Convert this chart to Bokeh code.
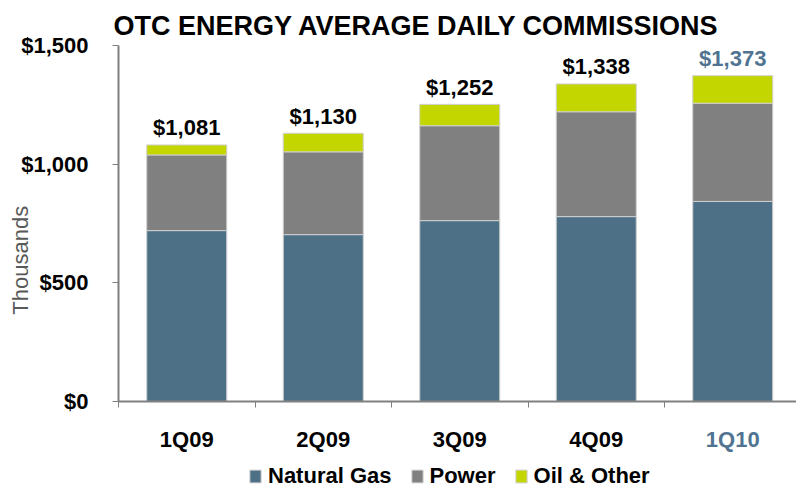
from bokeh.plotting import figure
from bokeh.models import (FixedTicker, NumeralTickFormatter, Label, Legend,
                          LegendItem, ColumnDataSource, Range1d)
from bokeh.core.properties import value
from bokeh.embed import file_html
from bokeh.resources import INLINE

# ---- data ----
quarters = ["1Q09", "2Q09", "3Q09", "4Q09", "1Q10"]
natural_gas = [720, 703, 762, 779, 843]
power = [319, 349, 400, 442, 414]
oil_other = [42, 78, 90, 117, 116]
totals = [1081, 1130, 1252, 1338, 1373]
y_ticks = [0, 500, 1000, 1500]

NG_C = "#4d7087"
PW_C = "#808080"
OIL_C = "#c3d600"
BLUE_T = "#4f7390"
FONT = value("Liberation Sans")

W, H = 796, 489
# frame covers the whole canvas; axes are pinned at data positions
PX_X = 136.5            # px per category
PX_Y = 355.5 / 1500.0   # px per unit
AX_LEFT, AX_BOTTOM, AX_TOP = 118, 401, 45
x0 = -0.5 - AX_LEFT / PX_X
x1 = -0.5 + (W - AX_LEFT) / PX_X
y0 = -(H - AX_BOTTOM) / PX_Y
y1 = 1500 + AX_TOP / PX_Y

xs = list(range(len(quarters)))
label_colors = ["black"] * (len(quarters) - 1) + [BLUE_T]
src = ColumnDataSource(dict(
    x=xs, ng=natural_gas, pw=power, oil=oil_other, total=totals,
    label_y=[t + 17 / PX_Y for t in totals],
    label=["${:,}".format(t) for t in totals], color=label_colors,
))

p = figure(width=W, height=H, x_range=Range1d(x0, x1), y_range=Range1d(y0, y1),
           output_backend="svg", toolbar_location=None,
           min_border_left=0, min_border_right=0,
           min_border_top=0, min_border_bottom=0)
p.outline_line_color = None
p.grid.visible = False

rs = p.vbar_stack(["ng", "pw", "oil"], x="x", width=0.586, source=src,
                  color=[NG_C, PW_C, OIL_C], line_color="#cfcfcf", line_width=1)

p.text(x="x", y="label_y", text="label", source=src, text_align="center",
       text_baseline="alphabetic", text_font=FONT,
       text_font_style="bold", text_font_size="22px", text_color="color")

# y axis
ya = p.yaxis[0]
ya.fixed_location = -0.5
ya.bounds = (0, 1500)
ya.ticker = FixedTicker(ticks=y_ticks)
ya.formatter = NumeralTickFormatter(format="$0,0")
ya.axis_line_color = "#808080"
ya.axis_line_width = 2
ya.major_tick_line_color = "#808080"
ya.major_tick_out = 6
ya.major_tick_in = 0
ya.minor_tick_line_color = None
ya.major_label_standoff = 24
ya.major_label_text_font = "Liberation Sans"
ya.major_label_text_font_style = "bold"
ya.major_label_text_font_size = "22px"
ya.major_label_text_color = "black"

# x axis
xa = p.xaxis[0]
xa.fixed_location = 0
xa.bounds = (-0.5, x1)
xa.ticker = FixedTicker(ticks=xs, minor_ticks=[i - 0.5 for i in xs])
xa.major_label_overrides = {i: "" for i in xs}
xa.major_label_text_font_size = "1px"
xa.axis_line_color = "#808080"
xa.axis_line_width = 2
xa.major_tick_line_color = None
xa.minor_tick_line_color = "#808080"
xa.minor_tick_out = 6
xa.minor_tick_in = 0

for i, q in enumerate(quarters):
    p.add_layout(Label(x=i, y=-(43 - 5) / PX_Y, text=q, text_align="center",
                       text_baseline="alphabetic", text_font="Liberation Sans",
                       text_font_style="bold", text_font_size="22px",
                       text_color=label_colors[i]))

p.add_layout(Label(x=-0.5 - 5 / PX_X, y=1500 + 20 / PX_Y,
                   text="OTC ENERGY AVERAGE DAILY COMMISSIONS",
                   text_align="left", text_baseline="alphabetic",
                   text_font="Liberation Sans", text_font_style="bold",
                   text_font_size="27px", text_color="black"))

p.add_layout(Label(x=-0.5 - 98 / PX_X, y=(AX_BOTTOM - 260) / PX_Y, text="Thousands",
                   angle=1.5707963, text_align="center", text_baseline="middle",
                   text_font="Liberation Sans", text_font_size="22px",
                   text_color="#595959"))

legend = Legend(items=[LegendItem(label="Natural Gas", renderers=[rs[0]]),
                       LegendItem(label="Power", renderers=[rs[1]]),
                       LegendItem(label="Oil & Other", renderers=[rs[2]])],
                orientation="horizontal", location=(248, 0),
                glyph_width=14, glyph_height=16, label_standoff=6, spacing=18,
                padding=0, margin=0, border_line_color=None,
                background_fill_alpha=0,
                label_text_font="Liberation Sans", label_text_font_style="bold",
                label_text_font_size="22px", label_text_color="black")
p.add_layout(legend, "center")

open("out.html", "w").write(file_html(p, INLINE))
